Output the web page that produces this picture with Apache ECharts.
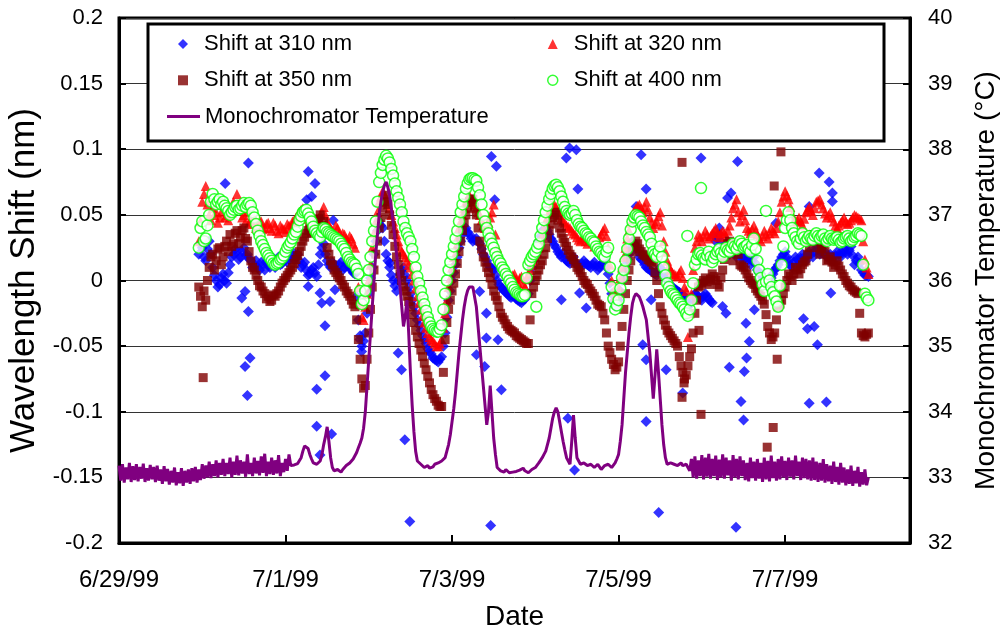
<!DOCTYPE html>
<html>
<head>
<meta charset="utf-8">
<script src="https://cdn.jsdelivr.net/npm/echarts@6/dist/echarts.min.js"></script>
<style>
html,body{margin:0;padding:0;background:#fff;}
#chart{width:1003px;height:632px;}
</style>
</head>
<body>
<div id="chart"></div>
<script>
// X axis: days since 6/29/99 00:00
const xTickDays = [0, 2, 4, 6, 8];
const xTickLabels = ['6/29/99', '7/1/99', '7/3/99', '7/5/99', '7/7/99'];

// Wavelength shift series: samples on the hour starting at hour 23 after 6/29/99 00:00,
// and a second set of samples on the half hour (hour 23.5 onward).
const shiftStartHour = 23;
const shift310 = [
 0.020, 0.025, 0.015, 0.030, 0.010, 0.000, -0.003, 0.005, -0.002, 0.012,
 0.020, 0.022, 0.018, 0.025, 0.020, 0.015, 0.012, 0.010, 0.014, 0.008,
 0.012, 0.015, 0.010, 0.018, 0.013, 0.020, 0.016, 0.022, 0.018, 0.015,
 0.012, 0.008, 0.005, 0.010, 0.003, 0.020, 0.028, 0.015, 0.010, 0.012,
 0.008, 0.014, 0.010, 0.012, 0.008, 0.005, -0.030, -0.050, -0.040, -0.010,
 0.010, 0.030, 0.045, 0.040, 0.020, 0.010, 0.000, -0.008, 0.005, 0.010,
 0.000, -0.010, -0.020, -0.030, -0.038, -0.045, -0.052, -0.056, -0.060, -0.062,
 -0.058, -0.040, -0.015, 0.000, 0.012, 0.025, 0.035, 0.040, 0.035, 0.030,
 0.032, 0.028, 0.020, 0.015, 0.010, 0.008, 0.000, -0.005, -0.008, -0.010,
 -0.013, -0.012, -0.015, -0.017, -0.014, -0.010, 0.010, 0.020, 0.030, 0.038,
 0.040, 0.035, 0.030, 0.025, 0.020, 0.021, 0.015, 0.013, 0.018, 0.012,
 0.010, 0.015, 0.012, 0.010, 0.014, 0.008, 0.012, 0.016, 0.005, -0.010,
 -0.020, -0.015, 0.000, 0.012, 0.020, 0.030, 0.025, 0.018, 0.015, 0.010,
 0.008, 0.006, 0.004, 0.010, 0.005, 0.000, -0.004, -0.006, -0.008, -0.010,
 -0.012, -0.020, -0.015, -0.010, -0.012, -0.015, -0.010, -0.014, -0.017, 0.030,
 0.035, 0.025, 0.028, 0.020, 0.025, 0.018, 0.022, 0.015, 0.020, 0.012,
 0.018, 0.008, 0.005, 0.000, -0.005, 0.002, 0.008, 0.012, 0.018, 0.022,
 0.015, 0.010, 0.018, 0.013, 0.020, 0.015, 0.022, 0.018, 0.025, 0.020,
 0.023, 0.018, 0.020, 0.015, 0.022, 0.018, 0.024, 0.020, 0.026, 0.012,
 0.018, 0.008, 0.004, 0.003
];
const shift310Half = [
 0.028, 0.018, 0.024, 0.020, 0.004, -0.005, 0.002, 0.000, 0.006, 0.018,
 0.024, 0.016, 0.022, 0.019, 0.017, 0.010, 0.015, 0.008, 0.012, 0.014,
 0.010, 0.017, 0.014, 0.012, 0.018, 0.014, 0.020, 0.016, 0.020, 0.010,
 0.014, 0.004, 0.008, 0.006, 0.012, 0.025, 0.020, 0.012, 0.014, 0.009,
 0.012, 0.008, 0.013, 0.010, 0.006, -0.012, -0.042, -0.046, -0.025, 0.002,
 0.020, 0.038, 0.042, 0.030, 0.015, 0.004, -0.004, 0.000, 0.008, 0.004,
 -0.005, -0.015, -0.025, -0.034, -0.042, -0.048, -0.054, -0.059, -0.061, -0.060,
 -0.050, -0.028, -0.008, 0.006, 0.018, 0.030, 0.038, 0.037, 0.032, 0.031,
 0.030, 0.024, 0.018, 0.012, 0.009, 0.004, -0.003, -0.006, -0.009, -0.012,
 -0.012, -0.014, -0.016, -0.015, -0.012, 0.000, 0.015, 0.025, 0.034, 0.039,
 0.038, 0.032, 0.027, 0.022, 0.018, 0.017, 0.014, 0.016, 0.014, 0.011,
 0.013, 0.013, 0.011, 0.012, 0.011, 0.010, 0.014, 0.010, -0.002, -0.016,
 -0.018, -0.008, 0.006, 0.016, 0.025, 0.028, 0.022, 0.016, 0.012, 0.009,
 0.007, 0.005, 0.007, 0.008, 0.002, -0.002, -0.005, -0.007, -0.009, -0.011,
 -0.016, -0.018, -0.012, -0.011, -0.014, -0.012, -0.012, -0.016, 0.034, 0.032,
 0.030, 0.026, 0.024, 0.022, 0.021, 0.020, 0.018, 0.017, 0.016, 0.015,
 0.013, 0.006, 0.002, -0.003, -0.002, 0.005, 0.010, 0.015, 0.020, 0.018,
 0.012, 0.014, 0.016, 0.017, 0.018, 0.019, 0.020, 0.022, 0.023, 0.021,
 0.020, 0.019, 0.018, 0.019, 0.020, 0.021, 0.022, 0.023, 0.019, 0.015,
 0.013, 0.006, 0.004
];
// scattered 310 nm points: [day, shift]
const outliers310 = [
 [1.554,0.0895],[1.275,0.074],[2.273,0.083],[2.354,0.074],[2.254,0.0615],[2.314,0.064],[2.573,0.046],
 [1.475,-0.0134],[1.554,-0.0236],[1.514,-0.0084],[2.273,-0.0046],[2.414,-0.0096],[2.434,-0.0172],
 [2.534,-0.016],[2.594,-0.0071],[2.474,-0.0345],[1.574,-0.0591],[1.514,-0.0655],[1.542,-0.0877],
 [2.474,-0.0726],[2.374,-0.0828],[2.374,-0.111],[2.554,-0.117],[2.414,-0.133],[2.893,-0.045],[2.914,-0.054],
 [4.472,0.0945],[4.532,0.087],[4.512,0.0615],[3.353,-0.0553],[3.393,-0.068],[3.433,-0.1214],[3.493,-0.1837],
 [4.464,-0.1867],[4.592,-0.0833],[4.293,-0.0566],[4.392,-0.0655],[4.412,-0.0439],[4.552,-0.0452],
 [4.332,-0.0084],[4.412,-0.0249],[3.253,0.0133],
 [5.411,0.101],[5.492,0.0996],[5.372,0.0933],[6.271,0.0958],[6.990,0.0933],[5.511,0.0697],[6.331,0.0697],
 [5.312,-0.0147],[5.531,-0.0096],[5.612,-0.021],[6.290,-0.049],[6.331,-0.0604],[6.571,-0.068],
 [5.391,-0.1049],[5.471,-0.1443],[6.331,-0.1075],[6.482,-0.1768],[6.770,-0.0858],[6.391,-0.0147],[6.211,0.0564],
 [7.429,0.0907],[8.409,0.0819],[8.529,0.075],[8.568,0.0666],[8.568,0.0602],[7.309,0.0628],[7.350,0.0666],
 [8.289,0.0564],[7.890,0.0437],[7.210,0.04],[7.249,-0.0198],[7.290,-0.0249],[7.630,-0.0223],[7.530,-0.0325],
 [7.570,-0.0465],[7.537,-0.0591],[7.330,-0.066],[7.510,-0.0693],[7.470,-0.0922],[7.501,-0.1062],[7.410,-0.188],
 [8.221,-0.0292],[8.269,-0.0368],[8.349,-0.035],[8.388,-0.049],[8.289,-0.0935],[8.496,-0.0925],[8.549,-0.0096]
];
const shift320 = [
 0.030, 0.060, 0.072, 0.050, 0.055, 0.052, 0.048, 0.058, 0.050, 0.055,
 0.060, 0.066, 0.055, 0.050, 0.052, 0.046, 0.048, 0.042, 0.045, 0.040,
 0.044, 0.038, 0.042, 0.036, 0.040, 0.037, 0.042, 0.045, 0.048, 0.052,
 0.055, 0.050, 0.045, 0.040, 0.043, 0.050, 0.056, 0.045, 0.040, 0.036,
 0.040, 0.033, 0.035, 0.030, 0.032, 0.025, -0.005, -0.028, -0.020, 0.000,
 0.025, 0.045, 0.060, 0.068, 0.062, 0.055, 0.045, 0.035, 0.025, 0.020,
 0.015, 0.010, 0.000, -0.012, -0.022, -0.032, -0.040, -0.045, -0.048, -0.050,
 -0.045, -0.025, -0.005, 0.010, 0.025, 0.040, 0.050, 0.060, 0.065, 0.062,
 0.055, 0.050, 0.042, 0.040, 0.048, 0.058, 0.025, 0.015, 0.010, 0.005,
 0.002, 0.005, -0.002, 0.003, -0.005, 0.005, 0.012, 0.018, 0.025, 0.035,
 0.045, 0.052, 0.058, 0.056, 0.050, 0.045, 0.042, 0.040, 0.036, 0.033,
 0.030, 0.033, 0.028, 0.032, 0.026, 0.030, 0.035, 0.040, 0.025, 0.000,
 -0.012, -0.005, 0.010, 0.025, 0.038, 0.050, 0.055, 0.058, 0.052, 0.060,
 0.048, 0.040, 0.045, 0.052, 0.030, 0.015, 0.008, 0.005, 0.003, 0.008,
 -0.005, -0.043, -0.010, 0.025, 0.035, 0.030, 0.038, 0.032, 0.036, 0.040,
 0.033, 0.038, 0.034, 0.042, 0.055, 0.062, 0.045, 0.054, 0.040, 0.036,
 0.042, 0.035, 0.030, 0.038, 0.032, 0.040, 0.036, 0.045, 0.060, 0.068,
 0.062, 0.050, 0.045, 0.048, 0.042, 0.052, 0.056, 0.050, 0.060, 0.062,
 0.055, 0.048, 0.052, 0.045, 0.040, 0.044, 0.048, 0.043, 0.046, 0.050,
 0.048, 0.046, 0.016, 0.005
];
const shift320Half = [
 0.045, 0.066, 0.058, 0.046, 0.050, 0.044, 0.052, 0.048, 0.046, 0.052,
 0.056, 0.058, 0.048, 0.045, 0.044, 0.043, 0.040, 0.046, 0.039, 0.043,
 0.040, 0.044, 0.038, 0.042, 0.039, 0.043, 0.040, 0.046, 0.050, 0.054,
 0.052, 0.047, 0.042, 0.044, 0.047, 0.052, 0.050, 0.042, 0.038, 0.042,
 0.036, 0.036, 0.032, 0.034, 0.028, 0.012, -0.018, -0.030, -0.010, 0.012,
 0.036, 0.052, 0.064, 0.066, 0.058, 0.050, 0.040, 0.030, 0.022, 0.018,
 0.012, 0.005, -0.006, -0.017, -0.027, -0.036, -0.043, -0.046, -0.050, -0.048,
 -0.036, -0.015, 0.002, 0.018, 0.032, 0.045, 0.055, 0.063, 0.060, 0.058,
 0.052, 0.046, 0.040, 0.044, 0.052, 0.035, 0.020, 0.012, 0.008, 0.004,
 0.004, 0.001, 0.002, -0.002, 0.001, 0.008, 0.015, 0.022, 0.030, 0.040,
 0.048, 0.055, 0.058, 0.053, 0.047, 0.044, 0.041, 0.038, 0.035, 0.031,
 0.032, 0.030, 0.031, 0.029, 0.028, 0.033, 0.038, 0.034, 0.012, -0.008,
 -0.010, 0.002, 0.018, 0.032, 0.044, 0.053, 0.057, 0.055, 0.056, 0.054,
 0.044, 0.043, 0.049, 0.042, 0.022, 0.011, 0.006, 0.004, 0.006, 0.002,
 -0.008, -0.025, 0.008, 0.030, 0.033, 0.034, 0.035, 0.034, 0.038, 0.036,
 0.036, 0.036, 0.038, 0.048, 0.058, 0.052, 0.050, 0.046, 0.038, 0.039,
 0.038, 0.032, 0.034, 0.035, 0.036, 0.038, 0.040, 0.052, 0.064, 0.065,
 0.056, 0.047, 0.046, 0.045, 0.047, 0.054, 0.053, 0.055, 0.061, 0.058,
 0.051, 0.050, 0.048, 0.042, 0.042, 0.046, 0.045, 0.044, 0.048, 0.049,
 0.047, 0.030, 0.010
];
const shift350 = [
 -0.005, -0.020, -0.015, 0.010, 0.020, 0.015, 0.025, 0.018, 0.030, 0.035,
 0.028, 0.038, 0.033, 0.040, 0.030, 0.015, 0.008, 0.000, -0.005, -0.010,
 -0.012, -0.015, -0.012, -0.008, -0.002, 0.002, 0.006, 0.010, 0.016, 0.022,
 0.030, 0.036, 0.040, 0.038, 0.045, 0.050, 0.045, 0.025, 0.015, 0.008,
 0.004, 0.000, -0.005, -0.010, -0.015, -0.020, -0.045, -0.075, -0.080, -0.040,
 -0.005, 0.020, 0.040, 0.055, 0.065, 0.050, 0.035, 0.018, 0.005, -0.005,
 -0.012, -0.020, -0.032, -0.043, -0.053, -0.063, -0.073, -0.083, -0.090, -0.095,
 -0.096, -0.045, -0.022, -0.008, 0.005, 0.022, 0.038, 0.050, 0.060, 0.062,
 0.050, 0.030, 0.018, 0.010, 0.002, -0.008, -0.015, -0.025, -0.030, -0.035,
 -0.038, -0.040, -0.043, -0.045, -0.047, -0.048, -0.010, 0.000, 0.008, 0.015,
 0.025, 0.038, 0.048, 0.052, 0.040, 0.032, 0.026, 0.020, 0.016, 0.010,
 0.006, 0.000, -0.003, -0.008, -0.012, -0.018, -0.020, -0.030, -0.050, -0.060,
 -0.068, -0.062, -0.035, -0.010, 0.008, 0.022, 0.030, 0.024, 0.020, 0.018,
 0.015, 0.012, 0.000, -0.020, -0.030, -0.038, -0.042, -0.046, -0.050, -0.065,
 -0.075, -0.065, -0.052, -0.025, -0.005, -0.002, 0.002, -0.003, 0.005, 0.000,
 -0.005, 0.008, 0.025, 0.030, 0.015, 0.028, 0.012, 0.010, 0.005, 0.000,
 -0.003, -0.008, -0.012, -0.018, -0.035, -0.045, -0.040, -0.020, -0.015, -0.005,
 0.005, 0.000, 0.010, 0.005, 0.012, 0.015, 0.025, 0.035, 0.030, 0.020,
 0.028, 0.015, 0.018, 0.010, 0.015, 0.008, 0.003, -0.002, -0.005, -0.008,
 -0.010, -0.040, -0.043, -0.040
];
const shift350Half = [
 -0.012, -0.008, 0.000, 0.018, 0.008, 0.024, 0.012, 0.026, 0.022, 0.026,
 0.036, 0.028, 0.038, 0.032, 0.022, 0.010, 0.004, -0.004, -0.008, -0.014,
 -0.016, -0.011, -0.010, -0.005, 0.000, 0.004, 0.008, 0.013, 0.019, 0.026,
 0.033, 0.038, 0.036, 0.042, 0.047, 0.042, 0.035, 0.020, 0.012, 0.006,
 0.002, -0.003, -0.008, -0.012, -0.018, -0.030, -0.060, -0.082, -0.060, -0.022,
 0.008, 0.030, 0.048, 0.060, 0.058, 0.042, 0.026, 0.012, 0.000, -0.008,
 -0.016, -0.026, -0.038, -0.048, -0.058, -0.068, -0.078, -0.087, -0.092, -0.096,
 -0.070, -0.032, -0.015, -0.002, 0.013, 0.030, 0.044, 0.055, 0.062, 0.056,
 0.040, 0.024, 0.014, 0.006, -0.003, -0.012, -0.020, -0.028, -0.033, -0.037,
 -0.039, -0.042, -0.044, -0.046, -0.048, -0.030, -0.005, 0.004, 0.012, 0.020,
 0.032, 0.043, 0.050, 0.046, 0.036, 0.029, 0.023, 0.018, 0.013, 0.008,
 0.003, -0.002, -0.006, -0.010, -0.015, -0.019, -0.025, -0.040, -0.055, -0.064,
 -0.066, -0.050, -0.022, 0.000, 0.015, 0.026, 0.028, 0.022, 0.019, 0.016,
 0.014, 0.006, -0.010, -0.025, -0.034, -0.040, -0.044, -0.048, -0.058, -0.070,
 -0.072, -0.058, -0.040, -0.015, -0.004, 0.000, -0.001, 0.001, 0.003, -0.003,
 0.002, 0.016, 0.028, 0.022, 0.022, 0.020, 0.011, 0.008, 0.002, -0.002,
 -0.006, -0.010, -0.015, -0.026, -0.040, -0.043, -0.030, -0.018, -0.010, 0.000,
 0.003, 0.005, 0.008, 0.009, 0.014, 0.020, 0.030, 0.032, 0.025, 0.024,
 0.022, 0.016, 0.014, 0.012, 0.011, 0.005, 0.000, -0.004, -0.007, -0.009,
 -0.025, -0.042, -0.041
];
const outliers350 = [
 [1.011,-0.074],[6.762,0.09],[6.990,-0.102],[6.762,-0.089],[6.786,-0.078],[7.950,0.098],[7.869,0.072],
 [7.905,-0.06],[7.857,-0.112],[7.785,-0.127],[6.966,-0.038]
];
const shift400 = [
 0.025, 0.045, 0.032, 0.050, 0.066, 0.058, 0.062, 0.060, 0.055, 0.050,
 0.054, 0.057, 0.055, 0.059, 0.058, 0.057, 0.048, 0.038, 0.030, 0.024,
 0.019, 0.015, 0.012, 0.014, 0.017, 0.022, 0.027, 0.032, 0.037, 0.046,
 0.052, 0.054, 0.048, 0.041, 0.036, 0.033, 0.040, 0.037, 0.035, 0.033,
 0.031, 0.028, 0.024, 0.018, 0.014, 0.012, 0.005, -0.018, -0.008, 0.008,
 0.030, 0.045, 0.075, 0.088, 0.095, 0.090, 0.080, 0.068, 0.058, 0.045,
 0.036, 0.030, 0.018, 0.003, -0.008, -0.018, -0.028, -0.035, -0.038, -0.039,
 -0.034, -0.010, 0.008, 0.020, 0.032, 0.045, 0.058, 0.070, 0.077, 0.078,
 0.076, 0.065, 0.050, 0.040, 0.032, 0.025, 0.018, 0.013, 0.008, 0.003,
 -0.002, -0.007, -0.010, -0.012, -0.011, 0.012, 0.018, 0.022, 0.028, 0.040,
 0.052, 0.062, 0.070, 0.073, 0.068, 0.060, 0.053, 0.050, 0.053, 0.046,
 0.041, 0.038, 0.035, 0.032, 0.029, 0.024, 0.021, 0.018, 0.025, -0.005,
 -0.022, -0.015, 0.002, 0.015, 0.032, 0.045, 0.050, 0.048, 0.042, 0.037,
 0.033, 0.022, 0.018, 0.026, 0.010, -0.002, -0.008, -0.011, -0.015, -0.018,
 -0.022, -0.027, -0.015, 0.012, 0.020, 0.019, 0.016, 0.022, 0.014, 0.020,
 0.024, 0.018, 0.025, 0.022, 0.028, 0.024, 0.030, 0.025, 0.027, 0.022,
 0.032, 0.015, 0.002, -0.008, 0.005, -0.005, -0.012, -0.020, 0.012, 0.040,
 0.052, 0.040, 0.033, 0.028, 0.036, 0.030, 0.034, 0.031, 0.036, 0.032,
 0.035, 0.030, 0.034, 0.031, 0.033, 0.029, 0.032, 0.034, 0.030, 0.033,
 0.036, 0.034, -0.010, -0.015
];
const shift400Half = [
 0.040, 0.030, 0.042, 0.060, 0.062, 0.060, 0.058, 0.057, 0.053, 0.052,
 0.056, 0.054, 0.057, 0.056, 0.059, 0.052, 0.043, 0.034, 0.027, 0.021,
 0.017, 0.013, 0.013, 0.016, 0.019, 0.025, 0.029, 0.035, 0.041, 0.049,
 0.053, 0.051, 0.045, 0.038, 0.034, 0.037, 0.039, 0.036, 0.034, 0.032,
 0.030, 0.026, 0.021, 0.016, 0.013, 0.009, -0.008, -0.015, 0.000, 0.018,
 0.038, 0.060, 0.082, 0.092, 0.093, 0.085, 0.074, 0.063, 0.052, 0.040,
 0.033, 0.024, 0.010, -0.002, -0.013, -0.023, -0.032, -0.037, -0.039, -0.037,
 -0.022, 0.000, 0.014, 0.026, 0.038, 0.052, 0.064, 0.074, 0.078, 0.077,
 0.071, 0.058, 0.045, 0.036, 0.028, 0.021, 0.015, 0.010, 0.005, 0.000,
 -0.005, -0.009, -0.011, -0.012, 0.002, 0.015, 0.020, 0.025, 0.034, 0.046,
 0.057, 0.066, 0.072, 0.071, 0.064, 0.056, 0.051, 0.051, 0.050, 0.043,
 0.040, 0.036, 0.033, 0.030, 0.026, 0.022, 0.019, 0.022, 0.010, -0.014,
 -0.019, -0.006, 0.008, 0.024, 0.039, 0.048, 0.049, 0.045, 0.040, 0.035,
 0.028, 0.020, 0.022, 0.018, 0.004, -0.005, -0.010, -0.013, -0.017, -0.020,
 -0.025, -0.022, -0.002, 0.016, 0.021, 0.017, 0.019, 0.018, 0.017, 0.022,
 0.021, 0.022, 0.023, 0.025, 0.026, 0.027, 0.028, 0.026, 0.024, 0.027,
 0.024, 0.008, -0.003, -0.001, 0.000, -0.009, -0.016, -0.004, 0.026, 0.046,
 0.046, 0.036, 0.030, 0.032, 0.033, 0.032, 0.032, 0.034, 0.034, 0.034,
 0.032, 0.032, 0.032, 0.032, 0.031, 0.030, 0.033, 0.032, 0.031, 0.034,
 0.035, 0.012, -0.013
];
const extra400 = [[6.990,0.0704],[7.770,0.053],[5.012,-0.02],[6.826,0.034]];

// Monochromator temperature (°C): on the hour from 6/29/99 00:00, plus half-hour readings
const tempStartHour = 0;
const monoTemp = [
 33.18, 33.20, 33.15, 33.22, 33.17, 33.20, 33.16, 33.21, 33.14, 33.19,
 33.16, 33.18, 33.12, 33.17, 33.13, 33.10, 33.15, 33.08, 33.14, 33.10,
 33.12, 33.14, 33.16, 33.12, 33.20, 33.18, 33.24, 33.20, 33.26, 33.22,
 33.28, 33.22, 33.30, 33.24, 33.33, 33.26, 33.24, 33.35, 33.22, 33.30,
 33.25, 33.32, 33.36, 33.24, 33.30, 33.26, 33.34, 33.22, 33.28, 33.35,
 33.18, 33.20, 33.22, 33.40, 33.50, 33.35, 33.22, 33.20, 33.25, 33.50,
 33.77, 33.30, 33.10, 33.12, 33.08, 33.15, 33.20, 33.25, 33.30, 33.45,
 33.60, 34.00, 34.80, 35.60, 36.40, 37.00, 37.35, 37.50, 37.30, 36.90,
 36.40, 35.90, 35.30, 35.70, 34.60, 33.70, 33.25, 33.20, 33.15, 33.18,
 33.12, 33.20, 33.22, 33.25, 33.30, 33.50, 33.85, 34.30, 34.90, 35.40,
 35.75, 35.90, 35.90, 35.60, 35.00, 34.40, 33.80, 34.40, 33.60, 33.15,
 33.10, 33.08, 33.10, 33.05, 33.10, 33.08, 33.12, 33.10, 33.07, 33.12,
 33.15, 33.22, 33.30, 33.40, 33.60, 33.90, 34.06, 33.85, 33.55, 33.30,
 33.20, 33.95, 33.30, 33.20, 33.22, 33.18, 33.20, 33.15, 33.20, 33.12,
 33.18, 33.20, 33.15, 33.22, 33.35, 33.80, 34.60, 35.20, 35.65, 35.80,
 35.75, 35.60, 35.40, 34.90, 34.20, 34.95, 34.20, 33.50, 33.20, 33.22,
 33.20, 33.18, 33.22, 33.15, 33.20, 33.28, 33.32, 33.26, 33.34, 33.30,
 33.36, 33.28, 33.33, 33.27, 33.35, 33.30, 33.26, 33.34, 33.28, 33.32,
 33.26, 33.22, 33.30, 33.24, 33.28, 33.22, 33.30, 33.25, 33.33, 33.24,
 33.28, 33.32, 33.25, 33.30, 33.26, 33.33, 33.24, 33.30, 33.28, 33.26,
 33.30, 33.24, 33.22, 33.28, 33.20, 33.18, 33.24, 33.16, 33.22, 33.15,
 33.12, 33.18, 33.10, 33.16, 33.08, 33.12, 33.00
];
const monoTempHalf = [
 32.95, 32.92, 32.97, 32.93, 32.96, 32.94, 32.98, 32.93, 32.95, 32.97,
 32.93, 32.95, 32.90, 32.94, 32.89, 32.92, 32.88, 32.91, 32.87, 32.92,
 32.90, 32.94, 32.92, 32.96, 32.98, 33.00, 32.99, 33.02, 33.00, 33.04,
 33.02, 33.05, 33.00, 33.04, 33.03, 33.06, 33.01, 33.05, 33.02, 33.06,
 33.03, 33.07, 33.02, 33.05, 33.04, 33.06, 33.02, 33.08, 33.10, 33.18,
 33.19, 33.21, 33.30, 33.48, 33.44, 33.28, 33.21, 33.22, 33.35, 33.62,
 33.55, 33.15, 33.10, 33.09, 33.12, 33.18, 33.22, 33.28, 33.38, 33.52,
 33.75, 34.40, 35.20, 36.00, 36.70, 37.20, 37.45, 37.42, 37.10, 36.65,
 36.15, 35.60, 35.45, 35.20, 34.10, 33.40, 33.22, 33.18, 33.16, 33.14,
 33.16, 33.21, 33.23, 33.28, 33.40, 33.65, 34.05, 34.60, 35.15, 35.60,
 35.85, 35.92, 35.75, 35.30, 34.70, 34.10, 34.00, 34.00, 33.35, 33.12,
 33.09, 33.12, 33.07, 33.08, 33.09, 33.11, 33.14, 33.08, 33.10, 33.13,
 33.18, 33.26, 33.35, 33.50, 33.75, 34.00, 34.00, 33.70, 33.42, 33.25,
 33.55, 33.60, 33.25, 33.21, 33.20, 33.16, 33.18, 33.17, 33.16, 33.15,
 33.19, 33.17, 33.18, 33.28, 33.55, 34.20, 34.90, 35.45, 35.75, 35.80,
 35.68, 35.50, 35.15, 34.55, 34.55, 34.60, 33.80, 33.30, 33.21, 33.19,
 33.22, 33.19, 33.18, 33.20, 33.10, 33.00, 32.98, 33.02, 32.97, 33.01,
 32.98, 33.02, 32.96, 33.00, 32.98, 33.03, 32.95, 33.00, 32.97, 33.02,
 32.96, 32.94, 32.99, 32.95, 32.98, 32.93, 32.97, 32.94, 32.99, 32.95,
 32.97, 33.00, 32.96, 33.01, 32.97, 33.02, 32.96, 32.99, 32.97, 32.95,
 32.96, 32.93, 32.95, 32.92, 32.94, 32.90, 32.93, 32.89, 32.92, 32.88,
 32.90, 32.87, 32.91, 32.86, 32.89, 32.88
];

const FONT = "'Liberation Sans', Arial, Helvetica, sans-serif";

function onHours(arr, startHour) {
  return arr.map((v, i) => [(startHour + i) / 24, v]);
}
function onHalfHours(arr, startHour) {
  return arr.map((v, i) => [(startHour + i + 0.5) / 24, v]);
}
function interleave(full, half, startHour) {
  const out = [];
  for (let i = 0; i < full.length; i++) {
    out.push([(startHour + i) / 24, full[i]]);
    if (i < half.length) out.push([(startHour + i + 0.5) / 24, half[i]]);
  }
  return out;
}

const chart = echarts.init(document.getElementById('chart'), null, {renderer: 'canvas'});

const legendText = {fontFamily: FONT, fontSize: 22, lineHeight: 22, color: '#000', padding: [0, 0, 0, 11]};
const option = {
  animation: false,
  backgroundColor: '#fff',
  textStyle: {fontFamily: FONT},
  grid: {
    left: 119, right: 93, top: 18, bottom: 89, containLabel: false, outerBoundsMode: 'none',
    show: true, borderColor: '#000', borderWidth: 3, backgroundColor: 'transparent'
  },
  legend: [
    {
      orient: 'vertical', left: 178, top: 33, padding: 0,
      itemWidth: 10, itemHeight: 10, itemGap: 14.3,
      textStyle: legendText,
      data: [
        {name: 'Shift at 310 nm', icon: 'diamond'},
        {name: 'Shift at 350 nm', icon: 'rect'}
      ]
    },
    {
      orient: 'vertical', left: 547, top: 33, padding: 0,
      itemWidth: 10, itemHeight: 10, itemGap: 14.3,
      textStyle: legendText,
      data: [
        {name: 'Shift at 320 nm', icon: 'triangle'},
        {name: 'Shift at 400 nm', icon: 'circle', itemStyle: {color: '#fff', borderColor: '#00FF00', borderWidth: 1.5}}
      ]
    },
    {
      orient: 'vertical', left: 167, top: 105.6, padding: 0,
      itemWidth: 33, itemHeight: 3, itemGap: 10,
      textStyle: {fontFamily: FONT, fontSize: 22, lineHeight: 22, color: '#000'},
      data: [
        {name: 'Monochromator Temperature', icon: 'rect', itemStyle: {color: '#800080'}}
      ]
    }
  ],
  graphic: [
    {type: 'rect', z: 3, shape: {x: 148, y: 24, width: 736, height: 117}, style: {fill: '#fff', stroke: '#000', lineWidth: 3}}
  ],
  xAxis: {
    type: 'value', min: 0, max: 9.5, interval: 2,
    name: 'Date', nameLocation: 'middle', nameGap: 60,
    nameTextStyle: {fontFamily: FONT, fontSize: 28, color: '#000'},
    axisLine: {onZero: false, lineStyle: {color: '#000', width: 3}},
    axisTick: {inside: true, length: 8, lineStyle: {color: '#000', width: 2}},
    splitLine: {show: false},
    axisLabel: {
      fontFamily: FONT, fontSize: 24, color: '#000', margin: 25, showMaxLabel: false,
      formatter: function (v) {
        const i = xTickDays.findIndex(d => Math.abs(d - v) < 1e-6);
        return i >= 0 ? xTickLabels[i] : '';
      }
    }
  },
  yAxis: [
    {
      type: 'value', min: -0.2, max: 0.2, interval: 0.05, position: 'left',
      name: 'Wavelength Shift (nm)', nameLocation: 'middle', nameGap: 75, nameRotate: 90,
      nameTextStyle: {fontFamily: FONT, fontSize: 35, color: '#000'},
      axisLine: {show: true, onZero: false, lineStyle: {color: '#000', width: 3}},
      axisTick: {show: true, inside: true, length: 7, lineStyle: {color: '#000', width: 2}},
      splitLine: {show: true, lineStyle: {color: '#333', width: 1}},
      axisLabel: {fontFamily: FONT, fontSize: 22, color: '#000', margin: 16}
    },
    {
      type: 'value', min: 32, max: 40, interval: 1, position: 'right',
      name: 'Monochromator Temperature (°C)', nameLocation: 'middle', nameGap: 62, nameRotate: 90,
      nameTextStyle: {fontFamily: FONT, fontSize: 28, color: '#000'},
      axisLine: {show: true, onZero: false, lineStyle: {color: '#000', width: 3}},
      axisTick: {show: true, inside: true, length: 7, lineStyle: {color: '#000', width: 2}},
      splitLine: {show: false},
      axisLabel: {fontFamily: FONT, fontSize: 22, color: '#000', margin: 18}
    }
  ],
  series: [
    {
      name: 'Shift at 310 nm', type: 'scatter', symbol: 'diamond', symbolSize: 11,
      itemStyle: {color: '#0000FF'},
      data: onHours(shift310, shiftStartHour).concat(onHalfHours(shift310Half, shiftStartHour), outliers310)
    },
    {
      name: 'Shift at 320 nm', type: 'scatter', symbol: 'triangle', symbolSize: 10,
      itemStyle: {color: '#FF0000'},
      data: onHours(shift320, shiftStartHour).concat(onHalfHours(shift320Half, shiftStartHour))
    },
    {
      name: 'Shift at 350 nm', type: 'scatter', symbol: 'rect', symbolSize: 9,
      itemStyle: {color: '#800000'},
      data: onHours(shift350, shiftStartHour).concat(onHalfHours(shift350Half, shiftStartHour), outliers350)
    },
    {
      name: 'Shift at 400 nm', type: 'scatter', symbol: 'circle', symbolSize: 11,
      itemStyle: {color: '#fff', borderColor: '#00FF00', borderWidth: 1.5},
      data: interleave(shift400, shift400Half, shiftStartHour).concat(extra400)
    },
    {
      name: 'Monochromator Temperature', type: 'line', yAxisIndex: 1,
      symbol: 'none', showSymbol: false,
      lineStyle: {color: '#800080', width: 3},
      itemStyle: {color: '#800080'},
      data: interleave(monoTemp, monoTempHalf, tempStartHour)
    }
  ]
};
chart.setOption(option);
</script>
</body>
</html>
